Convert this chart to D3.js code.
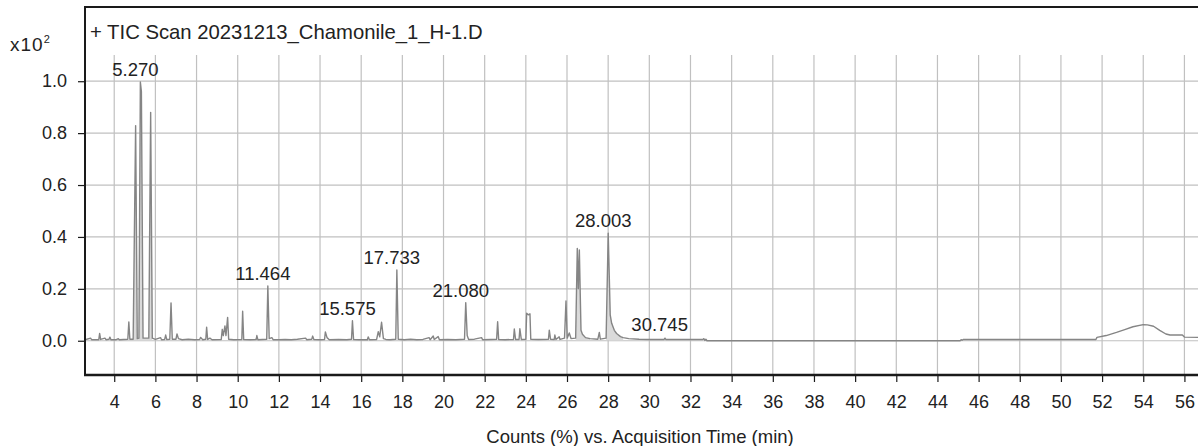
<!DOCTYPE html>
<html>
<head>
<meta charset="utf-8">
<script src="https://cdn.jsdelivr.net/npm/d3@7"></script>
<style>
body{margin:0;background:#fff;}
svg{font-family:"Liberation Sans",Arial,sans-serif;}
.grid-line{stroke:#c0c0c0;stroke-width:1.2;}
.frame-line{stroke:#1a1a1a;stroke-width:2;}
.tic-line{fill:none;stroke:#858585;stroke-width:1.4;stroke-linejoin:round;}
.tic-area{fill:#dadada;stroke:none;}
.axis text{font-size:18px;fill:#222;}
.axis line{stroke:#1a1a1a;stroke-width:1.2;}
.peak-tag{font-size:18.5px;fill:#222;text-anchor:middle;}
.axis-tag{font-size:18.5px;fill:#222;}
</style>
</head>
<body>
<div id="chromatogram"></div>
<script>
// TIC trace, [time (min), counts x10^2]
let trace_times = [2.58,2.85,2.9,3.25,3.29,3.34,3.55,3.6,3.75,3.79,3.84,4.1,4.2,4.25,4.66,4.71,4.76,4.92,5.04,5.12,5.2,5.27,5.32,5.4,5.68,5.77,5.85,6.0,
	6.25,6.3,6.45,6.5,6.55,6.7,6.76,6.82,7.0,7.05,7.12,7.3,7.6,7.9,8.15,8.2,8.3,8.45,8.49,8.54,8.65,8.75,9.2,9.25,9.3,9.38,9.43,9.51,9.56,9.8,
	10.2,10.24,10.29,10.6,10.9,10.93,10.98,11.2,11.41,11.464,11.53,11.66,11.72,12.0,12.3,12.6,12.9,13.3,13.35,13.6,13.64,13.7,14.0,14.22,14.26,14.34,14.45,
	14.9,15.3,15.53,15.575,15.63,15.9,16.3,16.34,16.4,16.75,16.83,16.9,16.99,17.08,17.2,17.4,17.68,17.733,17.8,18.1,18.4,18.7,19.0,19.3,19.35,19.5,19.55,
	19.74,19.8,20.2,20.6,21.02,21.08,21.15,21.22,21.5,21.85,21.9,22.3,22.58,22.63,22.68,23.0,23.4,23.44,23.5,23.67,23.71,23.78,24.0,24.04,24.12,24.2,24.24,
	24.6,25.1,25.14,25.2,25.38,25.41,25.46,25.62,25.66,25.88,25.95,26.01,26.11,26.2,26.42,26.5,26.55,26.6,26.68,26.75,26.9,27.12,27.5,27.57,27.62,27.9,
	28.003,28.1,28.17,28.3,28.41,28.6,28.73,29.0,29.5,30.0,30.72,30.76,30.8,31.5,32.2,32.6,32.65,32.7,32.75,32.8,45.1,45.15,45.2,45.25,51.7,51.75,52.2,
	52.7,53.1,53.5,54.0,54.2,54.5,54.8,55.1,55.3,55.9,56.0,56.7];
let trace_values = [0.004,0.01,0.004,0.004,0.028,0.005,0.01,0.004,0.006,0.014,0.004,0.004,0.008,0.004,0.006,0.072,0.006,0.006,0.829,0.008,0.01,0.997,0.96,0.01,0.01,0.88,0.01,0.005,
	0.012,0.004,0.005,0.022,0.005,0.006,0.146,0.006,0.006,0.026,0.008,0.004,0.006,0.004,0.005,0.013,0.004,0.006,0.052,0.005,0.01,0.004,0.005,0.044,0.02,0.057,0.02,0.09,0.006,0.004,
	0.005,0.114,0.005,0.004,0.005,0.02,0.004,0.005,0.006,0.211,0.008,0.012,0.004,0.004,0.005,0.004,0.006,0.01,0.004,0.006,0.018,0.005,0.004,0.005,0.034,0.012,0.004,
	0.005,0.004,0.006,0.077,0.005,0.004,0.004,0.015,0.004,0.005,0.035,0.015,0.071,0.008,0.005,0.004,0.006,0.273,0.006,0.004,0.006,0.004,0.005,0.012,0.004,0.018,0.005,
	0.016,0.004,0.005,0.004,0.006,0.147,0.02,0.005,0.006,0.012,0.004,0.005,0.006,0.073,0.005,0.004,0.005,0.045,0.005,0.005,0.046,0.005,0.006,0.106,0.1,0.104,0.006,
	0.005,0.006,0.041,0.006,0.005,0.022,0.005,0.015,0.005,0.01,0.153,0.01,0.03,0.008,0.01,0.356,0.2,0.35,0.04,0.025,0.012,0.008,0.006,0.032,0.006,0.01,
	0.414,0.1,0.067,0.04,0.028,0.016,0.012,0.008,0.006,0.005,0.005,0.01,0.005,0.005,0.005,0.005,0.008,0.001,0.006,0.0,0.0,0.004,0.002,0.005,0.005,0.013,0.02,
	0.032,0.043,0.054,0.062,0.061,0.056,0.04,0.026,0.022,0.022,0.014,0.013];

// integrated (shaded) windows
let integ_start = [4.92,26.42,27.9];
let integ_end = [5.85,27.12,28.73];

// labelled peaks
let peak_labels = ["5.270","11.464","15.575","17.733","21.080","28.003","30.745"];
let peak_times = [5.27,11.464,15.575,17.733,21.08,28.003,30.745];
let peak_heights = [0.997,0.211,0.077,0.273,0.147,0.414,0.013];

let x_ticks = [4,6,8,10,12,14,16,18,20,22,24,26,28,30,32,34,36,38,40,42,44,46,48,50,52,54,56];
let y_ticks = [0,0.2,0.4,0.6,0.8,1.0];

let title_text = "+ TIC Scan 20231213_Chamonile_1_H-1.D";
let x_title = "Counts (%) vs. Acquisition Time (min)";

function renderChart(){
	let total_width = 1198, total_height = 446;
	let left = 85, top = 7, bottom = 375, right = 1198;

	var svg = d3.select("#chromatogram").append("svg")
		.attr("width", total_width)
		.attr("height", total_height);

	var x = d3.scaleLinear().domain([2.58, 56.66]).range([left, right]);
	var y = d3.scaleLinear().domain([-0.132, 1.286]).range([bottom, top]);

	let trace = trace_times.map((t,i)=>[t, trace_values[i]]);

	// grid
	svg.append("g").selectAll("line").data(x_ticks).enter().append("line")
		.attr("class","grid-line")
		.attr("x1",d=>x(d)).attr("x2",d=>x(d))
		.attr("y1",55).attr("y2",bottom);
	svg.append("g").selectAll("line").data(y_ticks).enter().append("line")
		.attr("class","grid-line")
		.attr("x1",left).attr("x2",right)
		.attr("y1",d=>y(d)).attr("y2",d=>y(d));

	svg.append("clipPath").attr("id","plot-clip").append("rect")
		.attr("x",left).attr("y",top).attr("width",right-left).attr("height",bottom-top);
	let plot = svg.append("g").attr("clip-path","url(#plot-clip)");

	let area = d3.area()
		.x(d=>x(d[0]))
		.y0(y(0.002))
		.y1(d=>y(d[1]));
	integ_start.forEach((s,i)=>{
		let seg = trace.filter(d=>d[0]>=s && d[0]<=integ_end[i]);
		plot.append("path").datum(seg).attr("class","tic-area").attr("d",area);
	});

	let line = d3.line()
		.x(d=>x(d[0]))
		.y(d=>y(d[1]));
	plot.append("path").datum(trace).attr("class","tic-line").attr("d",line);

	// peak rt labels
	svg.append("g").selectAll("text").data(peak_labels).enter().append("text")
		.attr("class","peak-tag")
		.attr("x",(d,i)=>x(peak_times[i]) - 5)
		.attr("y",(d,i)=>y(peak_heights[i]) - 6)
		.text(d=>d);

	// axes
	svg.append("g")
		.attr("class","axis")
		.attr("transform","translate(0,"+bottom+")")
		.call(d3.axisBottom(x).tickValues(x_ticks).tickSize(7).tickPadding(13).tickFormat(d3.format("d")))
		.call(g=>g.select(".domain").remove());
	svg.append("g")
		.attr("class","axis")
		.attr("transform","translate("+left+",0)")
		.call(d3.axisLeft(y).tickValues(y_ticks).tickSize(7).tickPadding(11).tickFormat(d3.format(".1f")))
		.call(g=>g.select(".domain").remove());

	// frame
	svg.append("line").attr("class","frame-line").attr("x1",left).attr("x2",left).attr("y1",top).attr("y2",bottom+1);
	svg.append("line").attr("class","frame-line").attr("x1",left-1).attr("x2",right).attr("y1",top).attr("y2",top);
	svg.append("line").attr("class","frame-line").attr("x1",left-1).attr("x2",right).attr("y1",bottom).attr("y2",bottom).style("stroke-width",2.5);

	svg.append("text")
		.attr("x",90).attr("y",39)
		.attr("class","axis-tag").style("font-size","20.3px")
		.text(title_text);

	let mult = svg.append("text")
		.attr("x",10).attr("y",51)
		.attr("class","axis-tag").style("font-size","19px").style("letter-spacing","1px");
	mult.append("tspan").text("x10");
	mult.append("tspan").attr("dy",-8).style("font-size","11px").text("2");

	svg.append("text")
		.attr("x",640).attr("y",443)
		.attr("text-anchor","middle")
		.attr("class","axis-tag")
		.text(x_title);
}

renderChart();
</script>
</body>
</html>
